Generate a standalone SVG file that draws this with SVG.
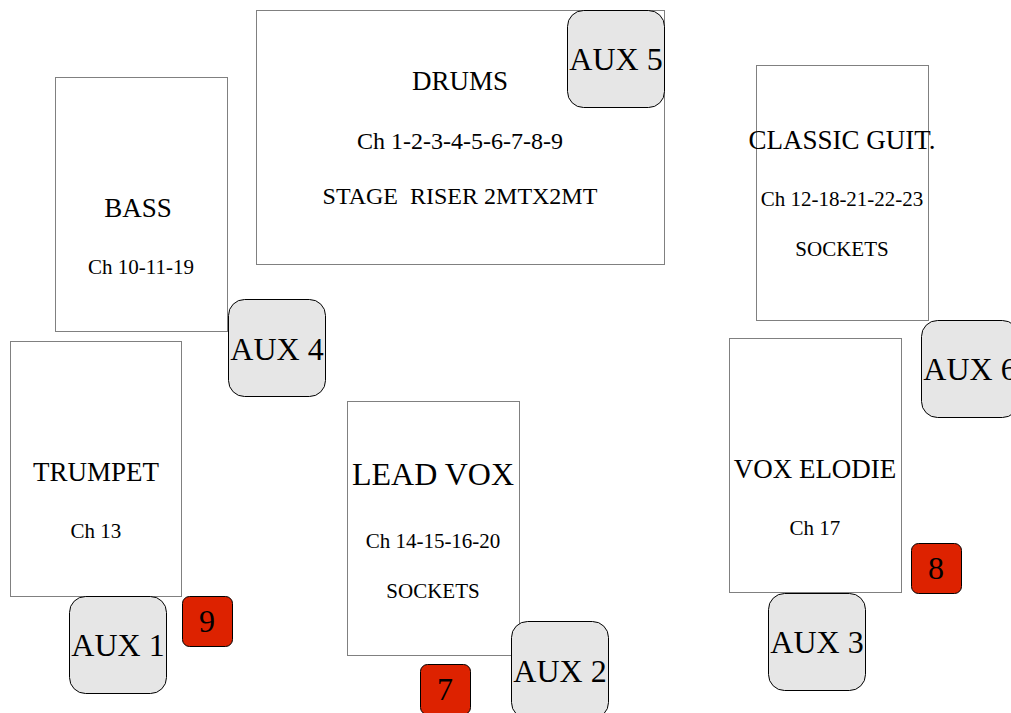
<svg xmlns="http://www.w3.org/2000/svg" width="1011" height="713" viewBox="0 0 1011 713">
<style>
.box{fill:#fff;stroke:#808080;stroke-width:1}
.aux{fill:#e6e6e6;stroke:#000;stroke-width:1}
.red{fill:#dd2200;stroke:#000;stroke-width:1}
text{font-family:"Liberation Serif",serif;fill:#000;text-anchor:middle}
.t32{font-size:32px}
.t27{font-size:27px}
.t24{font-size:24px}
.t21{font-size:21px}
</style>
<rect width="1011" height="713" fill="#fff"/>
<g id="drums"><rect class="box" x="256.5" y="10.5" width="408" height="254"/>
<text class="t27" x="460" y="90">DRUMS</text>
<text class="t24" x="460" y="149">Ch 1-2-3-4-5-6-7-8-9</text>
<text class="t24" x="460" y="204" xml:space="preserve">STAGE  RISER 2MTX2MT</text></g>
<g id="bass"><rect class="box" x="55.5" y="77.5" width="172" height="254"/>
<text class="t27" x="138" y="217">BASS</text>
<text class="t21" x="141" y="274">Ch 10-11-19</text></g>
<g id="classic"><rect class="box" x="756.5" y="65.5" width="172" height="255"/>
<text class="t27" x="842" y="149">CLASSIC GUIT.</text>
<text class="t21" x="842" y="206">Ch 12-18-21-22-23</text>
<text class="t21" x="842" y="256">SOCKETS</text></g>
<g id="trumpet"><rect class="box" x="10.5" y="341.5" width="171" height="255"/>
<text class="t27" x="96" y="481">TRUMPET</text>
<text class="t21" x="96" y="538">Ch 13</text></g>
<g id="leadvox"><rect class="box" x="347.5" y="401.5" width="172" height="254"/>
<text class="t32" x="433" y="485">LEAD VOX</text>
<text class="t21" x="433" y="548">Ch 14-15-16-20</text>
<text class="t21" x="433" y="598">SOCKETS</text></g>
<g id="voxelodie"><rect class="box" x="729.5" y="338.5" width="172" height="254"/>
<text class="t27" x="815" y="478">VOX ELODIE</text>
<text class="t21" x="815" y="535">Ch 17</text></g>
<g id="aux5"><rect class="aux" x="567.5" y="10.5" width="97" height="97" rx="16"/><text class="t32" x="616" y="70">AUX 5</text></g>
<g id="aux4"><rect class="aux" x="228.5" y="299.5" width="97" height="97" rx="16"/><text class="t32" x="277" y="360">AUX 4</text></g>
<g id="aux6"><rect class="aux" x="921.5" y="320.5" width="97" height="97" rx="16"/><text class="t32" x="970" y="380">AUX 6</text></g>
<g id="aux1"><rect class="aux" x="69.5" y="596.5" width="97" height="97" rx="16"/><text class="t32" x="118" y="656">AUX 1</text></g>
<g id="aux2"><rect class="aux" x="511.5" y="621.5" width="97" height="97" rx="16"/><text class="t32" x="560" y="682">AUX 2</text></g>
<g id="aux3"><rect class="aux" x="768.5" y="593.5" width="97" height="97" rx="16"/><text class="t32" x="817" y="653">AUX 3</text></g>
<g id="n9"><rect class="red" x="182.5" y="596.5" width="50" height="50" rx="7"/><text class="t32" x="207" y="632">9</text></g>
<g id="n7"><rect class="red" x="420.5" y="664.5" width="50" height="50" rx="7"/><text class="t32" x="445" y="700">7</text></g>
<g id="n8"><rect class="red" x="911.5" y="543.5" width="50" height="50" rx="7"/><text class="t32" x="936" y="579">8</text></g>
<g id="connectors"></g>
</svg>
